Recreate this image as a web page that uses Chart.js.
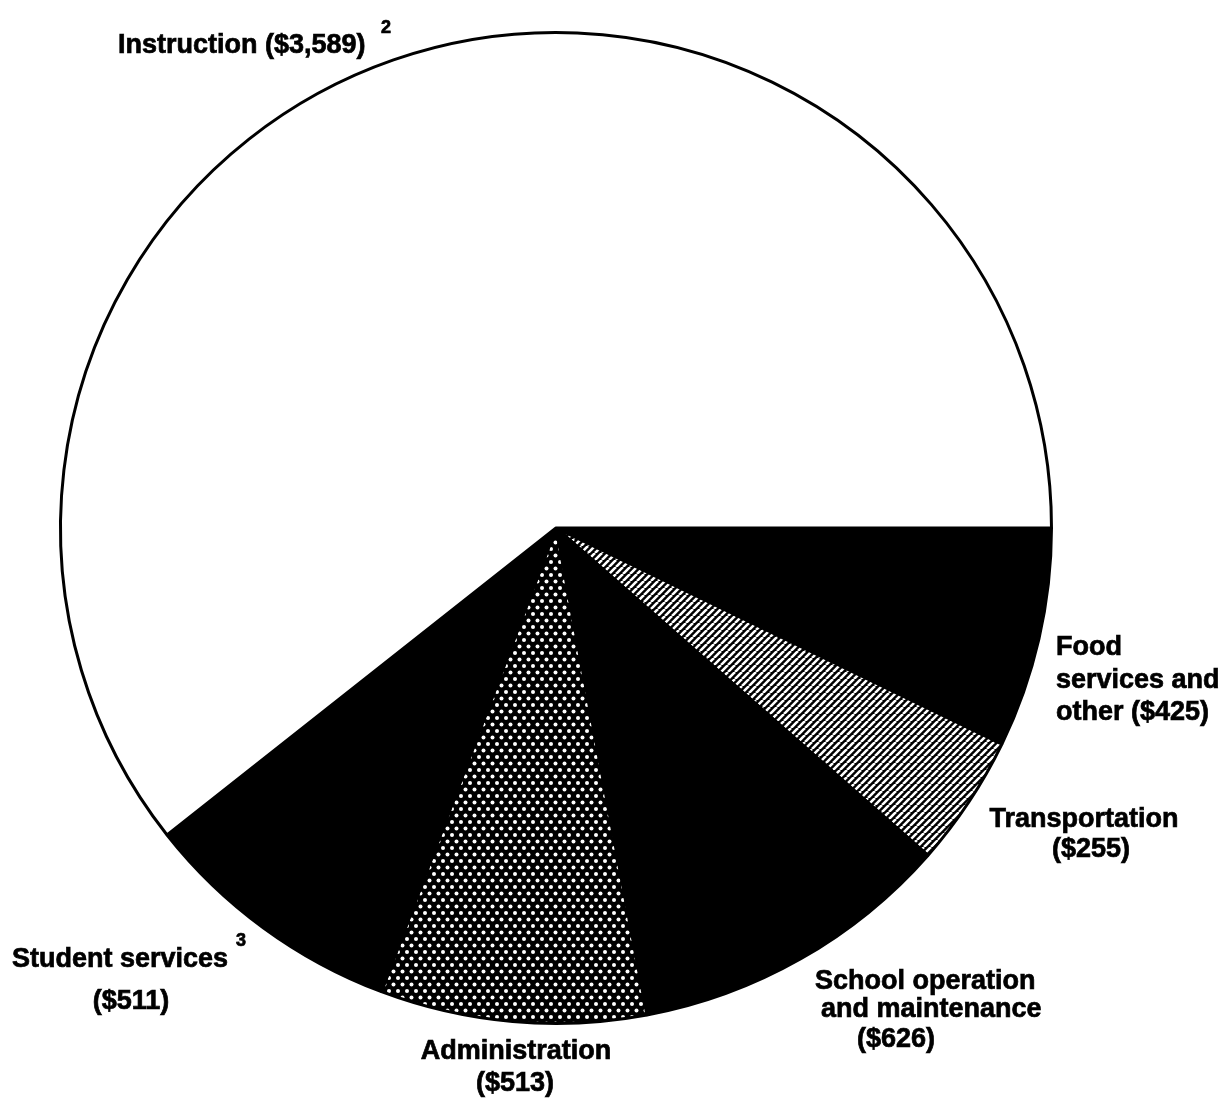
<!DOCTYPE html>
<html>
<head>
<meta charset="utf-8">
<script src="https://cdn.jsdelivr.net/npm/chart.js@4"></script>
<style>
  html, body { margin: 0; padding: 0; background: #fff; }
  #wrap { width: 1230px; height: 1098px; position: relative; }
</style>
</head>
<body>
<div id="wrap"><canvas id="graficoPizza"></canvas></div>
<script>
// Dados (gasto por aluno, em dólares)
const categorias = ['Food services and other', 'Transportation', 'School operation and maintenance', 'Administration', 'Student services', 'Instruction'];
const valores = [425, 255, 626, 513, 511, 3589];
// texto dos rótulos, {v} vira o valor
const rotulos = [
    ['Food', 'services and', 'other ({v})'],
    ['Transportation', '({v})'],
    ['School operation', 'and maintenance', '({v})'],
    ['Administration', '({v})'],
    ['Student services', '({v})'],
    ['Instruction ({v})']
];
const notas = ['', '', '', '', '3', '2'];

// posição de cada linha de rótulo: [x, y, align]
const posRotulos = [
    [[1056, 655, 'left'], [1056, 688, 'left'], [1056, 720, 'left']],
    [[1084, 827, 'center'], [1091, 857, 'center']],
    [[815, 989, 'left'], [821, 1017, 'left'], [857, 1047, 'left']],
    [[516, 1059, 'center'], [515, 1091, 'center']],
    [[12, 967, 'left'], [131, 1009, 'center']],
    [[118, 53, 'left']]
];
const posNotas = [null, null, null, null, [236, 946], [381, 33]];

// padrões de preenchimento
function padraoListras() {
    const s = 7;
    const c = document.createElement('canvas');
    c.width = s; c.height = s;
    const g = c.getContext('2d');
    g.fillStyle = '#000';
    g.fillRect(0, 0, s, s);
    g.strokeStyle = '#fff';
    g.lineWidth = 2.6;
    g.beginPath();
    for (let k = -1; k <= 1; k++) {
        g.moveTo(k * s, s);
        g.lineTo(k * s + s, 0);
    }
    g.stroke();
    return g.createPattern(c, 'repeat');
}

function padraoPontos() {
    const w = 9, h = 13;
    const c = document.createElement('canvas');
    c.width = w; c.height = h;
    const g = c.getContext('2d');
    g.fillStyle = '#000';
    g.fillRect(0, 0, w, h);
    g.fillStyle = '#fff';
    [[2, 3], [6.5, 9.5]].forEach(([x, y]) => {
        g.beginPath();
        g.arc(x, y, 2, 0, Math.PI * 2);
        g.fill();
    });
    return g.createPattern(c, 'repeat');
}

const cores = ['#000', padraoListras(), '#000', padraoPontos(), '#000', '#fff'];

const fmt = v => '$' + v.toLocaleString('en-US');

// desenha os rótulos fora da pizza
const pluginRotulos = {
    id: 'rotulos',
    afterDraw(chart) {
        const ctx = chart.ctx;
        ctx.save();
        ctx.fillStyle = '#000';
        ctx.strokeStyle = '#000';
        ctx.lineWidth = 0.7;
        ctx.textBaseline = 'alphabetic';
        rotulos.forEach((linhas, i) => {
            ctx.font = 'bold 27px "Liberation Sans", Arial, sans-serif';
            linhas.forEach((txt, j) => {
                const [x, y, al] = posRotulos[i][j];
                const t = txt.replace('{v}', fmt(valores[i]));
                ctx.textAlign = al;
                ctx.fillText(t, x, y);
                ctx.strokeText(t, x, y);
            });
            if (notas[i]) {
                ctx.font = 'bold 18px "Liberation Sans", Arial, sans-serif';
                ctx.textAlign = 'left';
                ctx.fillText(notas[i], posNotas[i][0], posNotas[i][1]);
                ctx.strokeText(notas[i], posNotas[i][0], posNotas[i][1]);
            }
        });
        ctx.restore();
    }
};

new Chart(document.getElementById('graficoPizza'), {
    type: 'pie',
    data: {
        labels: categorias,
        datasets: [{
            data: valores,
            backgroundColor: cores,
            borderColor: '#000',
            borderWidth: 3
        }]
    },
    options: {
        responsive: true,
        maintainAspectRatio: false,
        animation: false,
        events: [],
        rotation: 90,
        layout: { padding: { left: 59, right: 177, top: 31, bottom: 73 } },
        plugins: {
            legend: { display: false },
            tooltip: { enabled: false }
        }
    },
    plugins: [pluginRotulos]
});
</script>
</body>
</html>
